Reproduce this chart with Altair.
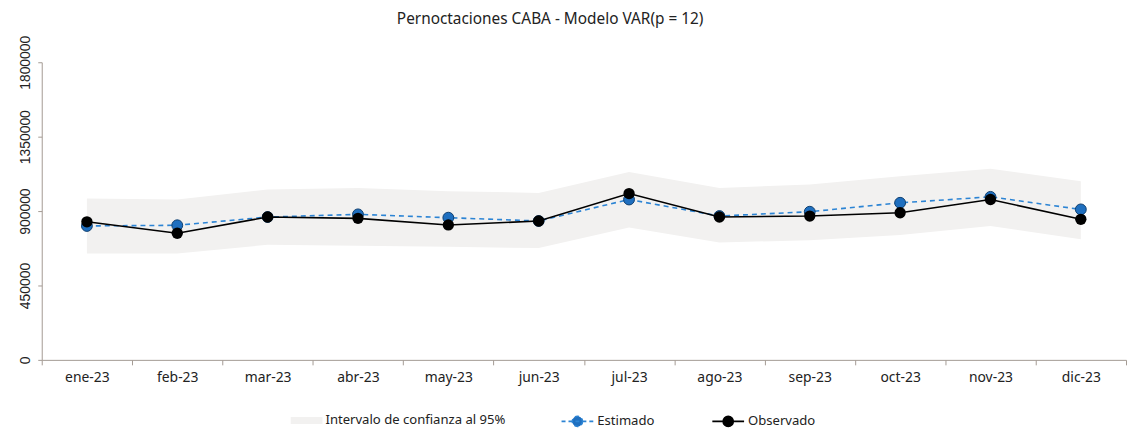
import altair as alt
import pandas as pd

meses = ["ene-23", "feb-23", "mar-23", "abr-23", "may-23", "jun-23",
         "jul-23", "ago-23", "sep-23", "oct-23", "nov-23", "dic-23"]
estimado = [810000, 814000, 864000, 880000, 860000, 840000,
            970000, 870000, 896000, 950000, 986000, 910000]
observado = [835000, 766000, 864000, 856000, 816000, 840000,
             1006000, 864000, 870000, 890000, 970000, 850000]
inferior = [644000, 644000, 696000, 690000, 684000, 676000,
            800000, 710000, 724000, 756000, 810000, 730000]
superior = [976000, 970000, 1030000, 1040000, 1020000, 1010000,
            1136000, 1040000, 1060000, 1110000, 1156000, 1080000]
y_ticks = [0, 450000, 900000, 1350000, 1800000]

BAND = "Intervalo de confianza al 95%"
EST = "Estimado"
OBS = "Observado"
C_BAND = "#f2f1f0"
C_EST = "#2c84d4"
C_EST_FILL = "#1f6fbf"
C_OBS = "#000000"

df_band = pd.DataFrame({"mes": meses, "lo": inferior, "hi": superior, "serie": BAND})
df_est = pd.DataFrame({"mes": meses, "v": estimado, "serie": EST})
df_obs = pd.DataFrame({"mes": meses, "v": observado, "serie": OBS})

FONT = "Noto Sans"
AX = "#a39a93"
LEG_Y = 345

xenc = alt.X("mes:N", sort=meses, title=None,
             scale=alt.Scale(type="band", paddingInner=0, paddingOuter=0),
             axis=alt.Axis(labelAngle=0, tickBand="extent", domainColor=AX, tickColor=AX,
                           tickSize=5, labelFontSize=14, labelColor="#222", labelFont=FONT,
                           labelPadding=6, grid=False))
yscale = alt.Scale(domain=[0, 1800000], nice=False)

line_path = "M-1,0H1M0.32,0A0.32,0.32,0,1,1,-0.32,0A0.32,0.32,0,1,1,0.32,0Z"
rect_path = "M-1,-0.22H1V0.22H-1Z"

common_leg = dict(title=None, orient="none", direction="horizontal", legendY=LEG_Y,
                  labelFont=FONT, labelFontSize=13.2, labelColor="#222", symbolSize=1024,
                  labelOffset=3, labelLimit=400)

band = alt.Chart(df_band).mark_area(opacity=1).encode(
    x=xenc,
    y=alt.Y("lo:Q", scale=yscale, title=None,
            axis=alt.Axis(values=y_ticks, format="d", labelAngle=270, labelAlign="center",
                          labelBaseline="bottom", grid=False,
                          domainColor=AX, tickColor=AX, tickSize=4, labelFontSize=14,
                          labelColor="#222", labelFont="Liberation Sans", labelPadding=5)),
    y2="hi:Q",
    color=alt.Color("serie:N", scale=alt.Scale(domain=[BAND], range=[C_BAND]),
                    legend=alt.Legend(symbolType=rect_path, symbolStrokeColor="transparent",
                                      symbolStrokeWidth=0, legendX=251, **common_leg)),
)

stroke_enc = alt.Stroke("serie:N", scale=alt.Scale(domain=[EST], range=[C_EST]),
                        legend=alt.Legend(symbolType=line_path, symbolFillColor=C_EST_FILL,
                                          symbolDash=[4, 3], symbolStrokeWidth=1.6,
                                          legendX=523, **common_leg))
line_est = alt.Chart(df_est).mark_line(strokeDash=[5, 4], strokeWidth=1.6).encode(
    x=alt.X("mes:N", sort=meses), y=alt.Y("v:Q", scale=yscale), stroke=stroke_enc)
pts_est = alt.Chart(df_est).mark_point(filled=True, size=120, opacity=1, fill=C_EST_FILL,
                                       stroke="#0f3f6e", strokeWidth=1).encode(
    x=alt.X("mes:N", sort=meses), y=alt.Y("v:Q", scale=yscale))

op_enc = alt.Opacity("serie:N", scale=alt.Scale(domain=[OBS], range=[1]),
                     legend=alt.Legend(symbolType=line_path, symbolFillColor=C_OBS,
                                       symbolStrokeColor=C_OBS, symbolStrokeWidth=1.6,
                                       legendX=675, **common_leg))
line_obs = alt.Chart(df_obs).mark_line(strokeWidth=1.6, color=C_OBS).encode(
    x=alt.X("mes:N", sort=meses), y=alt.Y("v:Q", scale=yscale), opacity=op_enc)
pts_obs = alt.Chart(df_obs).mark_point(filled=True, size=130, color=C_OBS, opacity=1).encode(
    x=alt.X("mes:N", sort=meses), y=alt.Y("v:Q", scale=yscale))

chart = alt.layer(band, line_est, pts_est, line_obs, pts_obs).resolve_scale(
    color="independent", stroke="independent"
).properties(
    width=1093, height=300,
    padding={"left": 10, "top": 2, "right": 0, "bottom": 0},
    title=alt.Title("Pernoctaciones CABA - Modelo VAR(p = 12)", fontSize=15.5, font=FONT,
                    fontWeight="normal", color="#222", offset=8, anchor="middle", dx=-34),
).configure_view(stroke=None)

chart.save("out.html", embed_options={"renderer": "svg", "actions": False})
